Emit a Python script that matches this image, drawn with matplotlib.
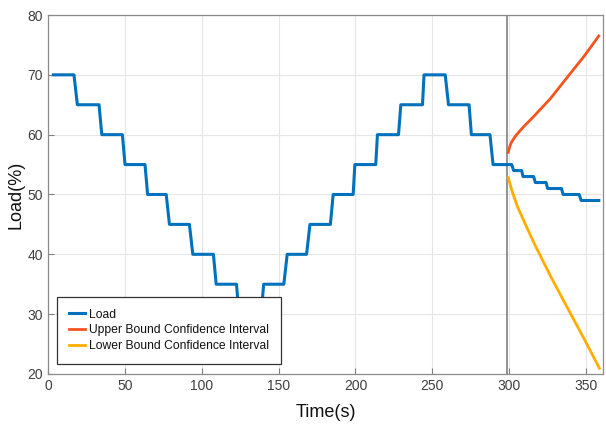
import numpy as np
import matplotlib
matplotlib.use("Agg")
import matplotlib.pyplot as plt

plt.rcParams["font.family"] = ["Liberation Sans", "DejaVu Sans"]

# Load profile: levels and (start, end) times of each flat segment
load_levels = [70, 65, 60, 55, 50, 45, 40, 35, 30, 35, 40, 45, 50, 55, 60, 65, 70, 65, 60, 55,
               54, 53, 52, 51, 50, 49]
seg_start = [3.5, 19.1, 35.0, 50.1, 64.8, 79.0, 94.2, 109.4, 124.3, 140.3, 155.6, 170.4, 185.5,
             199.6, 214.3, 229.5, 244.6, 260.5, 275.4, 289.5,
             302.9, 309.0, 317.0, 325.0, 335.1, 346.8]
seg_end = [16.9, 33.2, 48.4, 63.1, 76.9, 92.0, 107.6, 122.6, 138.6, 153.4, 168.2, 183.7, 198.5,
           213.2, 228.0, 243.6, 258.4, 273.9, 287.5, 301.6,
           308.1, 315.9, 324.0, 334.0, 345.5, 358.3]

# Confidence interval bounds (forecast)
upper_time = [299.4, 300.2, 301.4, 303.9, 306.5, 309.3, 315.8, 326.7, 337.5, 348.4, 358.3]
upper_ci = [57.05, 57.9, 58.7, 59.7, 60.5, 61.3, 63.0, 66.0, 69.5, 73.0, 76.5]
lower_time = [299.4, 300.8, 302.2, 305.5, 310.9, 316.3, 327.2, 338.1, 348.9, 358.7]
lower_ci = [52.8, 51.5, 50.3, 47.9, 44.8, 41.8, 36.2, 30.95, 25.8, 20.95]

forecast_start = 298.8

x_ticks = [0, 50, 100, 150, 200, 250, 300, 350]
y_ticks = [20, 30, 40, 50, 60, 70, 80]

# build polyline of the step load
lt, lv = [], []
for lev, s, e in zip(load_levels, seg_start, seg_end):
    lt += [s, e]
    lv += [lev, lev]

fig = plt.figure(figsize=(6.06, 4.24), dpi=100)
ax = fig.add_axes([0.0792, 0.118, 0.9158, 0.8466])

ax.plot(lt, lv, color="#0072BD", lw=2.2, label="Load", solid_joinstyle="round")
ax.plot(upper_time, upper_ci, color="#F5541E", lw=2.0, label="Upper Bound Confidence Interval",
        solid_joinstyle="round")
ax.plot(lower_time, lower_ci, color="#FFAE00", lw=2.0, label="Lower Bound Confidence Interval",
        solid_joinstyle="round")
ax.axvline(forecast_start, color="#808080", lw=1.2, zorder=1)

ax.set_xlim(0, 361)
ax.set_ylim(20, 80)
ax.set_xticks(x_ticks)
ax.set_yticks(y_ticks)
ax.grid(True, color="#E6E6E6", lw=0.8)
ax.set_axisbelow(True)
ax.tick_params(direction="in", length=4, color="#7F7F7F", labelcolor="#404040", labelsize=10)
for sp in ax.spines.values():
    sp.set_color("#8C8C8C")
    sp.set_linewidth(0.9)

ax.set_xlabel("Time(s)", fontsize=13, color="#111111", labelpad=8)
ax.set_ylabel("Load(%)", fontsize=13, color="#111111", labelpad=2)

leg = ax.legend(loc="lower left", bbox_to_anchor=(0.0165, 0.028), fontsize=8.7, frameon=True,
                fancybox=False, edgecolor="#333333", framealpha=1.0, handlelength=1.3,
                handletextpad=0.3, borderpad=1.0, labelspacing=0.3, borderaxespad=0)
leg.get_frame().set_linewidth(0.9)
for t in leg.get_texts():
    t.set_color("#111111")

fig.savefig("out.png", dpi=100)
